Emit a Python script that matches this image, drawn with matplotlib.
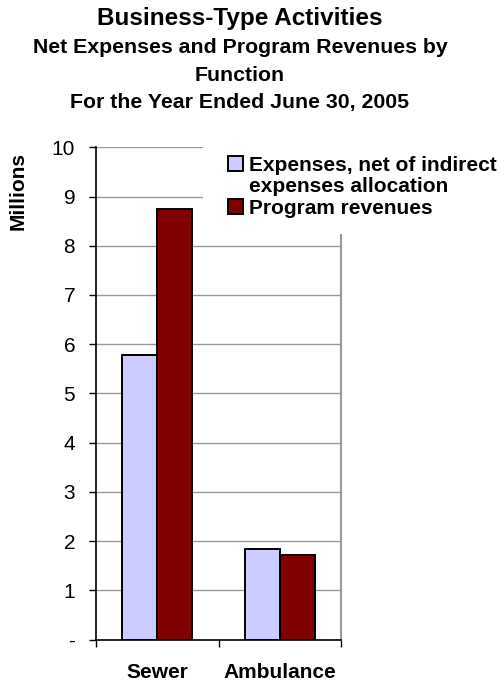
import matplotlib
matplotlib.use("Agg")
import matplotlib.pyplot as plt
from matplotlib.patches import Patch, Rectangle
import numpy as np

plt.rcParams['font.family'] = ['Liberation Sans', 'DejaVu Sans']

categories = ["Sewer", "Ambulance"]
series_names = ["Expenses, net of indirect", "expenses allocation", "Program revenues"]
expenses = [5.78, 1.84]
revenues = [8.74, 1.72]
y_ticks = [0, 1, 2, 3, 4, 5, 6, 7, 8, 9, 10]
y_tick_labels = ["-", "1", "2", "3", "4", "5", "6", "7", "8", "9", "10"]

exp_color = "#CCCCFF"
rev_color = "#800000"

W, H = 504, 681
fig = plt.figure(figsize=(W / 100, H / 100), dpi=100)
ax = fig.add_axes([96 / W, 1 - 639.5 / H, 245 / W, (639.5 - 147.3) / H])

centers = np.arange(len(categories)) + 0.5
w = 0.286
ax.bar(centers - w / 2, expenses, w, color=exp_color, edgecolor="black",
       linewidth=1.4, zorder=3)
ax.bar(centers + w / 2, revenues, w, color=rev_color, edgecolor="black",
       linewidth=1.4, zorder=3)

ax.set_xlim(0, len(categories))
ax.set_ylim(0, 10)
ax.set_yticks(y_ticks)
ax.set_yticklabels(y_tick_labels, fontsize=15)
ax.yaxis.grid(True, color="#999999", linewidth=1.0, zorder=0)
ax.set_axisbelow(True)

# category labels centred, tick marks at the category boundaries
ax.set_xticks(centers)
ax.set_xticklabels(categories, fontsize=15, fontweight="bold")
ax.tick_params(axis="x", which="major", length=0, pad=17)
ax.set_xticks(np.arange(len(categories) + 1), minor=True)
ax.tick_params(axis="x", which="minor", length=5, width=1, direction="out")
ax.tick_params(axis="y", length=5, width=1, direction="out", pad=10)

for side in ("left", "bottom"):
    ax.spines[side].set_color("black")
    ax.spines[side].set_linewidth(1.2)
ax.spines["top"].set_visible(False)
ax.spines["right"].set_color("#999999")
ax.spines["right"].set_linewidth(1.5)

fig.text(18 / W, 1 - 190.5 / H, "Millions", rotation=90, ha="center",
         va="center", fontsize=15, fontweight="bold")

# legend area: white backing over the plot corner
fig.add_artist(Rectangle((203 / W, 1 - 234 / H), (W - 203) / W, (234 - 140) / H,
                         transform=fig.transFigure, facecolor="white",
                         edgecolor="none", zorder=5))
handles = [Patch(facecolor=exp_color, edgecolor="black", linewidth=1.4),
           Patch(facecolor="none", edgecolor="none"),
           Patch(facecolor=rev_color, edgecolor="black", linewidth=1.4)]
leg = fig.legend(handles, series_names, loc="upper left",
                 bbox_to_anchor=(228 / W, 1 - 156 / H), frameon=False,
                 borderpad=0, borderaxespad=0, handlelength=0.7,
                 handleheight=0.7, handletextpad=0.3, labelspacing=0.12,
                 prop={"size": 15, "weight": "bold"})
leg.set_zorder(10)

title_lines = [("Business-Type Activities", 17.5, 25),
               ("Net Expenses and Program Revenues by", 15.3, 53),
               ("Function", 15.3, 81),
               ("For the Year Ended June 30, 2005", 15.3, 108)]
for text, size, base in title_lines:
    fig.text(240 / W, 1 - base / H, text, ha="center", va="baseline",
             fontsize=size, fontweight="bold")

fig.savefig("out.png", dpi=100)
